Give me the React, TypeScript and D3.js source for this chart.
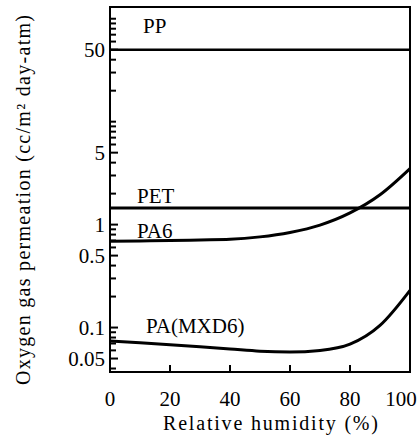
import React from "react";
import * as d3 from "d3";

const humidity = [0, 10, 20, 30, 40, 50, 60, 70, 80, 90, 100];
const ppValues = [50, 50, 50, 50, 50, 50, 50, 50, 50, 50, 50];
const petValues = [1.45, 1.45, 1.45, 1.45, 1.45, 1.45, 1.45, 1.45, 1.45, 1.45, 1.45];
const pa6Values = [0.69, 0.695, 0.70, 0.71, 0.72, 0.76, 0.84, 0.99, 1.3, 1.95, 3.5];
const mxd6Values = [0.074, 0.071, 0.068, 0.065, 0.062, 0.059, 0.058, 0.06, 0.069, 0.105, 0.23];

const seriesNames = ["PP", "PET", "PA6", "PA(MXD6)"];
const xTicks = [0, 20, 40, 60, 80, 100];
const yTickLabels = [50, 5, 1, 0.5, 0.1, 0.05];
const yTickText = ["50", "5", "1", "0.5", "0.1", "0.05"];

const W = 417;
const H = 442;
const left = 110;
const right = 410;
const top = 7;
const bottom = 372;
const FONT = "'Liberation Serif', 'DejaVu Serif', 'Times New Roman', Times, serif";

export default function App() {
  const x = d3.scaleLinear().domain([0, 100]).range([left, right]);
  const y = d3.scaleLog().domain([0.037, 130]).range([bottom, top]);

  const line = d3
    .line<[number, number]>()
    .x((d) => x(d[0]))
    .y((d) => y(d[1]))
    .curve(d3.curveMonotoneX);

  const series = [ppValues, petValues, pa6Values, mxd6Values].map((vals) =>
    humidity.map((h, i) => [h, vals[i]] as [number, number])
  );

  const minor: number[] = [];
  for (const dec of [0.01, 0.1, 1, 10, 100]) {
    for (let k = 1; k <= 9; k++) {
      const v = +(k * dec).toPrecision(3);
      if (v >= 0.038 && v <= 125) minor.push(v);
    }
  }

  const labelPos: [number, number, number][] = [
    [11, 50, -17],
    [9, 1.45, -5],
    [9, 0.69, -3],
    [12, 0.074, -8],
  ];

  return (
    <div style={{ position: "absolute", left: 0, top: 0, fontFamily: FONT }}>
      <svg width={W} height={H} style={{ display: "block", background: "#fff", fontFamily: FONT }}>
        <rect x={0} y={0} width={W} height={H} fill="#fff" />
        <rect
          x={left}
          y={top}
          width={right - left}
          height={bottom - top}
          fill="none"
          stroke="#000"
          strokeWidth={2}
        />
        <g stroke="#000" strokeWidth={2}>
          {minor.map((v, i) => {
            const major = yTickLabels.includes(v);
            return (
              <line
                key={"m" + i}
                x1={left}
                x2={left + (major ? 8 : 6)}
                y1={y(v)}
                y2={y(v)}
              />
            );
          })}
          {xTicks.slice(1, -1).map((t) => (
            <line key={"xt" + t} x1={x(t)} x2={x(t)} y1={bottom} y2={bottom - 7} />
          ))}
        </g>
        <g fill="#000" fontSize={21} fontFamily={FONT}>
          {yTickLabels.map((v, i) => (
            <text key={"yl" + i} x={left - 5} y={y(v)} dy="0.35em" textAnchor="end">
              {yTickText[i]}
            </text>
          ))}
          {xTicks.map((t, i) => (
            <text
              key={"xl" + t}
              x={i === xTicks.length - 1 ? x(t) - 9 : x(t)}
              y={406}
              textAnchor="middle"
            >
              {t}
            </text>
          ))}
          {labelPos.map((p, i) => (
            <text key={"sl" + i} x={x(p[0])} y={y(p[1]) + p[2]}>
              {seriesNames[i]}
            </text>
          ))}
          <text x={163} y={430} fontSize={20} textLength={215} lengthAdjust="spacing">
            Relative humidity (%)
          </text>
          <text
            transform="translate(30,385) rotate(-90)"
            fontSize={20}
            textLength={370}
            lengthAdjust="spacing"
          >
            Oxygen gas permeation (cc/m² day-atm)
          </text>
        </g>
        {series.map((pts, i) => (
          <path
            key={"s" + i}
            d={line(pts) || ""}
            fill="none"
            stroke="#000"
            strokeWidth={i === 0 ? 2.6 : 3}
          />
        ))}
      </svg>
    </div>
  );
}
